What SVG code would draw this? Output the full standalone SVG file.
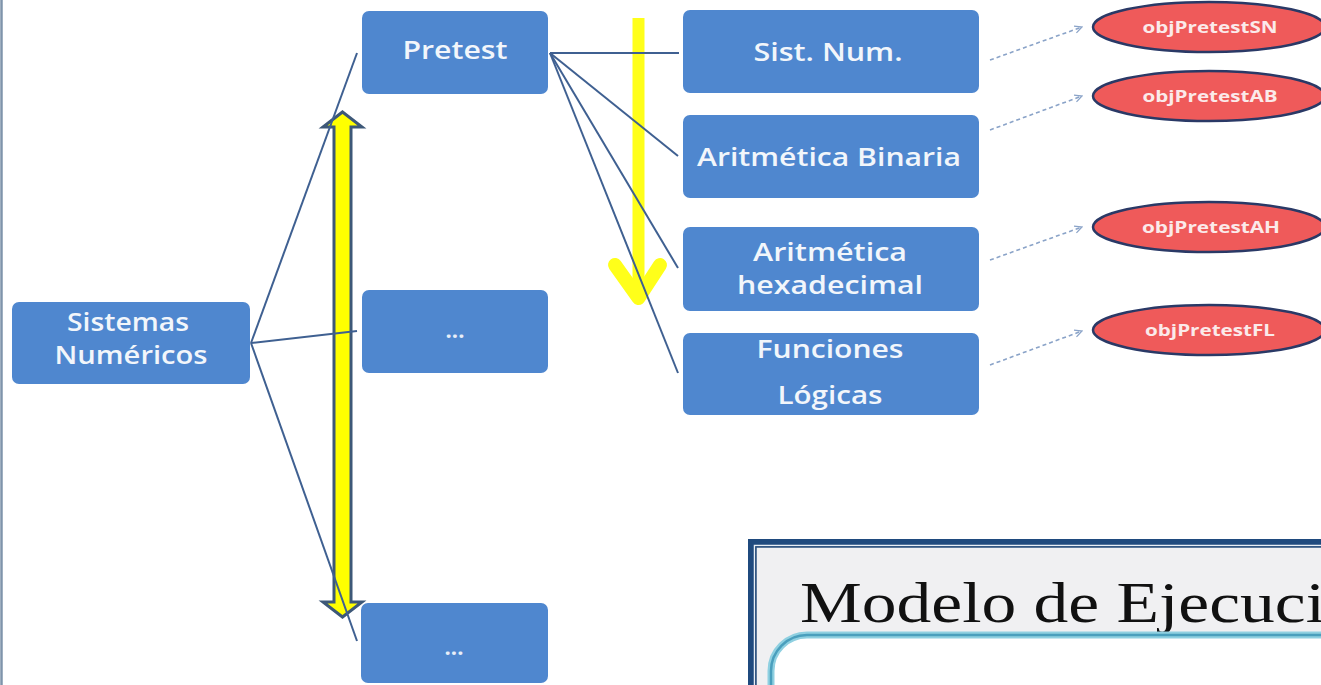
<svg xmlns="http://www.w3.org/2000/svg" width="1321" height="685" viewBox="0 0 1321 685">
  <style>
    .box { fill: #4f87cf; }
    .lbl { font-family: "Open Sans", "Liberation Sans", sans-serif; font-size: 26px; font-weight: 600; fill: #f2f6fb; text-anchor: middle; }
    .dots { font-family: "Open Sans", "Liberation Sans", sans-serif; font-size: 22px; font-weight: bold; fill: #e8eef8; text-anchor: middle; }
    .obj { fill: #ef5a5a; stroke: #2a3966; stroke-width: 2.5; }
    .objlbl { font-family: "Open Sans", "Liberation Sans", sans-serif; font-size: 16px; font-weight: bold; fill: #fbeaea; text-anchor: middle; }
    .link { stroke: #3f6091; stroke-width: 2; fill: none; }
    .dash { stroke: #8aa3c8; stroke-width: 1.6; stroke-dasharray: 4 3; fill: none; }
  </style>
  <defs>
    <marker id="open" viewBox="0 0 10 10" refX="9" refY="5" markerWidth="9" markerHeight="9" orient="auto" markerUnits="userSpaceOnUse">
      <path d="M1,1 L9,5 L1,9" fill="none" stroke="#8aa3c8" stroke-width="1.4"/>
    </marker>
  </defs>

  <rect x="0" y="0" width="1321" height="685" fill="#ffffff"/>
  <!-- page edge -->
  <line x1="1.5" y1="0" x2="1.5" y2="685" stroke="#7f94ab" stroke-width="2.5"/>

  <!-- yellow arrows -->
  <g id="arrow-down">
    <path d="M638.5,18 L638.5,294" stroke="#ffff1a" stroke-width="12" fill="none"/>
    <path d="M615,265 L638.5,298 L660,265" stroke="#ffff1a" stroke-width="14" fill="none" stroke-linejoin="round" stroke-linecap="round"/>
  </g>
  <g id="arrow-both">
    <polygon points="342.5,112 362,127 351,127 351,602 362,602 342.5,617 323,602 334,602 334,127 323,127" fill="#ffff00" stroke="#3d5878" stroke-width="3" stroke-linejoin="miter"/>
  </g>

  <!-- connectors -->
  <g id="connectors">
    <line class="link" x1="251" y1="343" x2="357" y2="53"/>
    <line class="link" x1="251" y1="343" x2="357" y2="331"/>
    <line class="link" x1="251" y1="343" x2="357" y2="641"/>
    <line class="link" x1="550" y1="53" x2="679" y2="53"/>
    <line class="link" x1="550" y1="53" x2="678" y2="156"/>
    <line class="link" x1="550" y1="53" x2="678" y2="268"/>
    <line class="link" x1="550" y1="53" x2="678" y2="373"/>
    <line class="dash" x1="990" y1="60" x2="1082" y2="27" marker-end="url(#open)"/>
    <line class="dash" x1="990" y1="130" x2="1082" y2="96" marker-end="url(#open)"/>
    <line class="dash" x1="990" y1="260" x2="1082" y2="227" marker-end="url(#open)"/>
    <line class="dash" x1="990" y1="365" x2="1082" y2="331" marker-end="url(#open)"/>
  </g>

  <!-- boxes -->
  <g id="sistemas">
    <rect class="box" x="12" y="302" width="238" height="82" rx="7"/>
    <text class="lbl" x="128" y="331" font-size="23" textLength="122" lengthAdjust="spacingAndGlyphs">Sistemas</text>
    <text class="lbl" x="131" y="364" font-size="23" textLength="153" lengthAdjust="spacingAndGlyphs">Numéricos</text>
  </g>
  <g id="pretest">
    <rect class="box" x="362" y="11" width="186" height="83" rx="7"/>
    <text class="lbl" x="455" y="59" textLength="105" lengthAdjust="spacingAndGlyphs">Pretest</text>
  </g>
  <g id="mid">
    <rect class="box" x="362" y="290" width="186" height="83" rx="7"/>
    <text class="dots" x="455" y="338">...</text>
  </g>
  <g id="low">
    <rect class="box" x="361" y="603" width="187" height="80" rx="7"/>
    <text class="dots" x="454" y="655">...</text>
  </g>
  <g id="sistnum">
    <rect class="box" x="683" y="10" width="296" height="83" rx="7"/>
    <text class="lbl" x="828" y="61" textLength="149" lengthAdjust="spacingAndGlyphs">Sist. Num.</text>
  </g>
  <g id="binaria">
    <rect class="box" x="683" y="115" width="296" height="83" rx="7"/>
    <text class="lbl" x="829" y="166" textLength="264" lengthAdjust="spacingAndGlyphs">Aritmética Binaria</text>
  </g>
  <g id="hexa">
    <rect class="box" x="683" y="227" width="296" height="84" rx="7"/>
    <text class="lbl" x="830" y="261" textLength="154" lengthAdjust="spacingAndGlyphs">Aritmética</text>
    <text class="lbl" x="830" y="294" textLength="186" lengthAdjust="spacingAndGlyphs">hexadecimal</text>
  </g>
  <g id="funciones">
    <rect class="box" x="683" y="333" width="296" height="82" rx="7"/>
    <text class="lbl" x="830" y="358" textLength="147" lengthAdjust="spacingAndGlyphs">Funciones</text>
    <text class="lbl" x="830" y="404" textLength="105" lengthAdjust="spacingAndGlyphs">Lógicas</text>
  </g>

  <!-- objects -->
  <g id="objSN">
    <ellipse class="obj" cx="1209" cy="27" rx="116" ry="25"/>
    <text class="objlbl" x="1210" y="33" textLength="135" lengthAdjust="spacingAndGlyphs">objPretestSN</text>
  </g>
  <g id="objAB">
    <ellipse class="obj" cx="1209" cy="96" rx="116" ry="25"/>
    <text class="objlbl" x="1210" y="102" textLength="135" lengthAdjust="spacingAndGlyphs">objPretestAB</text>
  </g>
  <g id="objAH">
    <ellipse class="obj" cx="1209" cy="227" rx="116" ry="25"/>
    <text class="objlbl" x="1211" y="233" textLength="138" lengthAdjust="spacingAndGlyphs">objPretestAH</text>
  </g>
  <g id="objFL">
    <ellipse class="obj" cx="1209" cy="330" rx="116" ry="25"/>
    <text class="objlbl" x="1210" y="336" textLength="130" lengthAdjust="spacingAndGlyphs">objPretestFL</text>
  </g>

  <!-- slide panel, lower right -->
  <g id="panel">
    <rect x="748" y="539" width="600" height="200" fill="#1f4a7e"/>
    <rect x="754.5" y="545.5" width="600" height="200" fill="none" stroke="#e8eef5" stroke-width="1.5"/>
    <rect x="756" y="547" width="600" height="200" fill="#f0f0f2" stroke="#2a4f7c" stroke-width="1.5"/>
    <text x="800" y="622" font-family="'Liberation Serif', serif" font-size="56" fill="#111111" textLength="525" lengthAdjust="spacingAndGlyphs">Modelo de Ejecuci</text>
    <rect x="771" y="635" width="640" height="200" rx="36" fill="#ffffff" stroke="#8fd0e1" stroke-width="7"/>
    <rect x="771" y="635" width="640" height="200" rx="36" fill="none" stroke="#4a9fbd" stroke-width="2.5"/>
  </g>
</svg>
